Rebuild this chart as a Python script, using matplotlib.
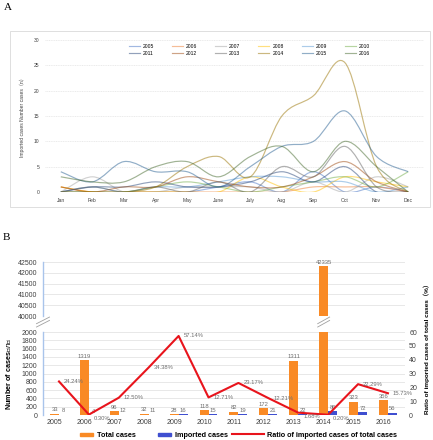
import numpy as np
import matplotlib
matplotlib.use('Agg')
import matplotlib.pyplot as plt
import matplotlib.transforms as mtransforms
from matplotlib.path import Path
from matplotlib.patches import PathPatch, Patch, Rectangle
from matplotlib.lines import Line2D
from matplotlib.legend_handler import HandlerPatch

plt.rcParams['font.family'] = ['Liberation Sans', 'DejaVu Sans', 'Noto Sans CJK SC']

# ---- panel A data: imported cases per month ----
months = ['Jan', 'Feb', 'Mar', 'Apr', 'May', 'June', 'July', 'Aug', 'Sep', 'Oct', 'Nov', 'Dec']
years = ['2005', '2006', '2007', '2008', '2009', '2010',
         '2011', '2012', '2013', '2014', '2015', '2016']
m2005 = [0, 0, 0, 0, 0, 1, 2, 0, 4, 0, 1, 0]
m2006 = [1, 0, 0, 0, 0, 0, 0, 0, 1, 1, 1, 0]
m2007 = [0, 3, 0, 0, 1, 1, 1, 0, 2, 0, 3, 1]
m2008 = [1, 0, 0, 0, 0, 0, 3, 1, 0, 3, 2, 1]
m2009 = [0, 1, 0, 1, 1, 2, 3, 3, 2, 2, 0, 1]
m2010 = [0, 0, 0, 1, 2, 1, 0, 1, 2, 3, 1, 4]
m2011 = [0, 1, 1, 2, 1, 1, 2, 4, 2, 5, 0, 0]
m2012 = [1, 0, 1, 1, 3, 2, 1, 1, 3, 6, 2, 0]
m2013 = [0, 1, 0, 1, 0, 2, 0, 5, 3, 9, 1, 0]
m2014 = [0, 0, 0, 1, 5, 7, 3, 15, 19, 25.5, 5, 0]
m2015 = [4, 2, 6, 4, 4, 1, 5, 9, 10, 16, 7, 4]
m2016 = [3, 2, 2, 5, 6, 3, 7, 9, 4, 10, 5, 0]
monthly = [m2005, m2006, m2007, m2008, m2009, m2010,
           m2011, m2012, m2013, m2014, m2015, m2016]
line_colors = ['#4472C4', '#ED7D31', '#A5A5A5', '#FFC000', '#5B9BD5', '#70AD47',
               '#264478', '#9E480E', '#636363', '#997300', '#255E91', '#43682B']

# ---- panel B data ----
total_cases = [33, 1319, 96, 32, 28, 118, 82, 172, 1311, 42335, 323, 356]
imported_cases = [8, 4, 12, 11, 16, 15, 19, 21, 22, 86, 72, 56]
ratio_pct = [24.24, 0.30, 12.50, 34.38, 57.14, 12.71, 23.17, 12.21, 1.68, 0.20, 22.29, 15.73]
ratio_labels = ['24.24%', '0.30%', '12.50%', '34.38%', '57.14%', '12.71%',
                '23.17%', '12.21%', '1.68%', '0.20%', '22.29%', '15.73%']

W, H = 433, 440
fig = plt.figure(figsize=(W / 100, H / 100), dpi=100)


def smooth_path(xs, ys):
    # excel-style smoothed line drawn with cubic bezier segments
    pts = np.column_stack([xs, ys]).astype(float)
    n = len(pts)
    verts = [pts[0]]
    codes = [Path.MOVETO]
    for i in range(n - 1):
        p0 = pts[max(i - 1, 0)]
        p1 = pts[i]
        p2 = pts[i + 1]
        p3 = pts[min(i + 2, n - 1)]
        verts += [p1 + (p2 - p0) / 6.0, p2 - (p3 - p1) / 6.0, p2]
        codes += [Path.CURVE4] * 3
    return Path(verts, codes)


# ================= panel A =================
fig.text(4 / W, 1 - 7 / H, 'A', fontsize=8, family='Liberation Serif', va='center')
fig.add_artist(Rectangle((10 / W, 1 - 207 / H), 420 / W, 176 / H, transform=fig.transFigure,
                         fill=False, edgecolor='#D9D9D9', lw=0.6))

axA = fig.add_axes([45 / W, 1 - 192 / H, 379 / W, 152 / H])
axA.set_xlim(-0.5, 11.5)
axA.set_ylim(0, 30)
xm = np.arange(len(months))
handles = []
for yr, vals, c in zip(years, monthly, line_colors):
    axA.add_patch(PathPatch(smooth_path(xm, vals), fill=False, edgecolor=c, lw=0.85, alpha=0.5))
    handles.append(Line2D([], [], color=c, lw=0.85, alpha=0.5, label=yr))
axA.set_xticks(xm)
axA.set_xticklabels(months)
axA.set_yticks(range(0, 31, 5))
axA.grid(axis='y', color='#E2E2E2', lw=0.5, ls=(0, (1.5, 1)))
axA.set_axisbelow(True)
for s in axA.spines.values():
    s.set_visible(False)
axA.axhline(0, color='#D0D0D0', lw=0.6)
axA.tick_params(length=0, labelsize=3.6, colors='#404040', pad=4)
axA.set_ylabel('Imported cases Number cases（n）', fontsize=3.6, color='#404040', labelpad=6)
order = [0, 6, 1, 7, 2, 8, 3, 9, 4, 10, 5, 11]
axA.legend([handles[i] for i in order], [years[i] for i in order], ncol=6,
           loc='upper left', bbox_to_anchor=(124 / W, 1 - 39 / H),
           bbox_transform=fig.transFigure, frameon=False, fontsize=3.6,
           handlelength=2.2, handletextpad=0.6, columnspacing=3.6, labelspacing=0.55)

# ================= panel B =================
fig.text(3 / W, 1 - 237 / H, 'B', fontsize=8, family='Liberation Serif', va='center')
orange = '#F98A25'
blue = '#3F4FD0'
red = '#E8141C'
grey_txt = '#6E6E6E'

axU = fig.add_axes([43 / W, 1 - 316 / H, 362 / W, 54 / H])
axL = fig.add_axes([43 / W, 1 - 415 / H, 362 / W, 83 / H])
x = np.arange(len(years))
bw = 0.3
for ax in (axU, axL):
    ax.bar(x - bw / 2, total_cases, bw, color=orange, zorder=2)
    ax.bar(x + bw / 2, imported_cases, bw, color=blue, zorder=2)
    ax.set_xlim(-0.535, 11.57)
    for s in ['top', 'right', 'bottom']:
        ax.spines[s].set_visible(False)
    ax.spines['left'].set_color('#A9C4EB')
    ax.spines['left'].set_linewidth(1.0)
    ax.grid(axis='y', color='#E4E4E4', lw=0.6)
    ax.set_axisbelow(True)
    ax.tick_params(axis='y', length=0, labelsize=5, colors='#404040', pad=4)

axU.set_ylim(40000, 42500)
axU.set_yticks(range(40000, 42501, 500))
axU.set_xticks([])
axL.set_ylim(0, 2000)
axL.set_yticks(range(0, 2001, 200))
axL.axhline(0, color='#BFBFBF', lw=0.7, zorder=1)
axL.set_xticks(x - bw / 2)
axL.set_xticklabels(years)
axL.tick_params(axis='x', length=0, labelsize=5, colors='#404040', pad=3)
axL.set_ylabel('Number of cases（$n$）', fontsize=5.2, fontweight='bold', labelpad=2)
axL.yaxis.set_label_coords(-0.082, 0.5)

# value labels on bars
for i in range(len(years)):
    if total_cases[i] < 2000:
        axL.text(x[i] - bw / 2, total_cases[i] + 30, str(total_cases[i]), ha='center',
                 va='bottom', fontsize=4.2, color=grey_txt)
    else:
        axU.text(x[i] - bw / 2, total_cases[i] + 30, str(total_cases[i]), ha='center',
                 va='bottom', fontsize=4.2, color=grey_txt, clip_on=False)
    axL.text(x[i] + bw / 2, imported_cases[i] + 30, str(imported_cases[i]), ha='center',
             va='bottom', fontsize=4.2, color=grey_txt)

# ratio line on right axis
axR = axL.twinx()
axR.plot(x, ratio_pct, color=red, lw=1.5, zorder=3)
axR.set_ylim(0, 60)
axR.set_yticks(range(0, 61, 10))
for s in axR.spines.values():
    s.set_visible(False)
axR.tick_params(axis='y', length=0, labelsize=5, colors='#404040', pad=3)
for xi, r, lbl in zip(x, ratio_pct, ratio_labels):
    dy = -2.5 if r < 3 else 0
    axR.annotate(lbl, (xi, r), xytext=(3.5, dy), textcoords='offset points', ha='left',
                 va='center', fontsize=4.2, color=grey_txt)
axR.set_ylabel('Ratio of imported cases of total cases（%）', fontsize=4.6,
               fontweight='bold', labelpad=4)
axR.yaxis.set_label_coords(1.05, 0.82)

# axis break marks
for ax_x, trans in [(0.0, axL.transAxes),
                    (x[9] - bw / 2, mtransforms.blended_transform_factory(axL.transData, axL.transAxes))]:
    span = 0.018 if trans is axL.transAxes else 0.2
    for dy in (0.0, 0.04):
        axL.add_line(Line2D([ax_x - span, ax_x + span], [1.06 + dy, 1.14 + dy], transform=trans,
                            color='#A0A0A0', lw=0.6, clip_on=False))


def flat_rect(legend, orig_handle, xdescent, ydescent, width, height, fontsize):
    return Rectangle((-xdescent + width * 0.55, -ydescent + height * 0.2), width * 0.42, height * 0.55)


leg_handles = [Patch(color=orange), Patch(color=blue), Line2D([], [], color=red, lw=1.5)]
fig.legend(leg_handles, ['Total cases', 'Imported cases', 'Ratio of imported cases of total cases'],
           ncol=3, loc='lower left', bbox_to_anchor=(56 / W, -0.012), frameon=False,
           prop={'size': 5.2, 'weight': 'bold'}, handlelength=4.4, handletextpad=0.4,
           columnspacing=0.6, handler_map={Patch: HandlerPatch(patch_func=flat_rect)})

fig.savefig('out.png', dpi=100)
